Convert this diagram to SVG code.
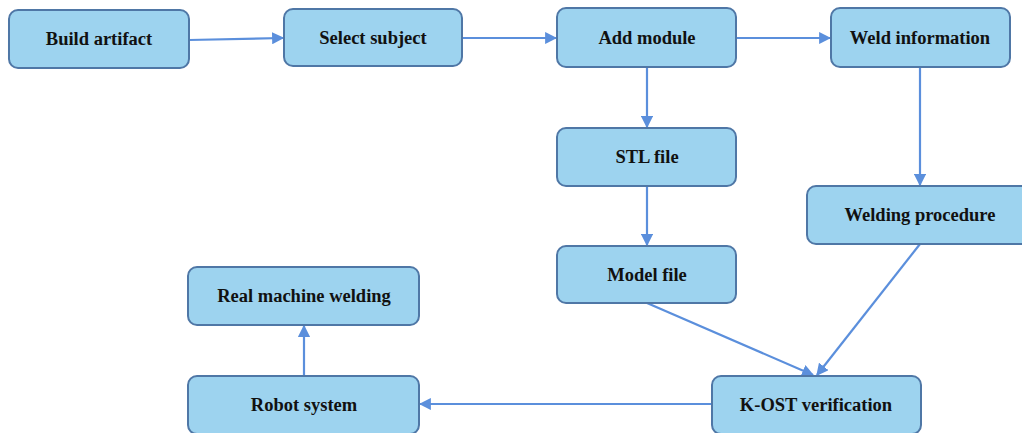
<svg xmlns="http://www.w3.org/2000/svg" width="1022" height="433" viewBox="0 0 1022 433">
  <style>
    .box { fill: #9dd3ef; stroke: #4f77a6; stroke-width: 2; }
    .lbl { font-family: "Liberation Serif", "Times New Roman", serif; font-weight: bold; font-size: 18.5px; fill: #111; text-anchor: middle; dominant-baseline: central; }
    .edge { stroke: #5b8fdc; stroke-width: 2.2; fill: none; marker-end: url(#arrow); }
  </style>
  <defs>
    <marker id="arrow" viewBox="0 0 10 10" refX="9" refY="5" markerWidth="5.5" markerHeight="5.5" orient="auto" markerUnits="strokeWidth">
      <path d="M0,0 L10,5 L0,10 z" fill="#5b8fdc"/>
    </marker>
  </defs>
  <rect width="1022" height="433" fill="#ffffff"/>

  <g id="connectors">
    <line class="edge" x1="189" y1="40" x2="283" y2="38"/>
    <line class="edge" x1="462" y1="38" x2="556" y2="38"/>
    <line class="edge" x1="736" y1="38" x2="830" y2="38"/>
    <line class="edge" x1="647" y1="67" x2="647" y2="127"/>
    <line class="edge" x1="647" y1="186" x2="647" y2="245"/>
    <line class="edge" x1="920" y1="67" x2="920" y2="185"/>
    <line class="edge" x1="647" y1="303" x2="813" y2="375"/>
    <line class="edge" x1="920" y1="244" x2="817" y2="375"/>
    <line class="edge" x1="712" y1="404" x2="420" y2="404"/>
    <line class="edge" x1="304" y1="376" x2="304" y2="326"/>
  </g>

  <g id="build-artifact">
    <rect class="box" x="9" y="10" width="180" height="58" rx="9"/>
    <text class="lbl" x="99" y="39">Build artifact</text>
  </g>
  <g id="select-subject">
    <rect class="box" x="284" y="9" width="178" height="57" rx="9"/>
    <text class="lbl" x="373" y="38">Select subject</text>
  </g>
  <g id="add-module">
    <rect class="box" x="557" y="8" width="179" height="59" rx="9"/>
    <text class="lbl" x="647" y="38">Add module</text>
  </g>
  <g id="weld-information">
    <rect class="box" x="831" y="8" width="179" height="59" rx="9"/>
    <text class="lbl" x="920" y="38">Weld information</text>
  </g>
  <g id="stl-file">
    <rect class="box" x="557" y="128" width="179" height="58" rx="9"/>
    <text class="lbl" x="647" y="157">STL file</text>
  </g>
  <g id="welding-procedure">
    <rect class="box" x="807" y="186" width="224" height="58" rx="9"/>
    <text class="lbl" x="920" y="215">Welding procedure</text>
  </g>
  <g id="model-file">
    <rect class="box" x="557" y="246" width="179" height="57" rx="9"/>
    <text class="lbl" x="647" y="275">Model file</text>
  </g>
  <g id="real-machine-welding">
    <rect class="box" x="188" y="267" width="231" height="58" rx="9"/>
    <text class="lbl" x="304" y="296">Real machine welding</text>
  </g>
  <g id="robot-system">
    <rect class="box" x="188" y="376" width="231" height="58" rx="9"/>
    <text class="lbl" x="304" y="405">Robot system</text>
  </g>
  <g id="k-ost-verification">
    <rect class="box" x="712" y="376" width="209" height="58" rx="9"/>
    <text class="lbl" x="816" y="405">K-OST verification</text>
  </g>
</svg>
